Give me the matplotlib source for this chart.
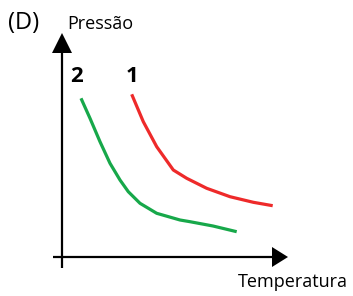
import matplotlib
matplotlib.use("Agg")
import matplotlib.pyplot as plt

plt.rcParams['font.family'] = ['Open Sans', 'DejaVu Sans']

# Curve 2 (green) - temperature vs pressure (arbitrary units)
t2 = [1.9, 2.8, 3.8, 4.8, 5.8, 6.63, 7.8, 9.47, 11.8, 12.8, 15.1, 17.47]
p2 = [15.87, 13.87, 11.53, 9.37, 7.7, 6.53, 5.37, 4.37, 3.7, 3.53, 3.1, 2.53]
# Curve 1 (red)
t1 = [6.97, 8.13, 9.47, 11.13, 12.47, 14.47, 16.8, 19.13, 21.07]
p1 = [16.27, 13.53, 11.03, 8.7, 7.87, 6.87, 6.03, 5.47, 5.13]

labels = ["1", "2"]

fig = plt.figure(figsize=(3.53, 2.96), dpi=100)
ax = fig.add_axes([0, 0, 1, 1])
ax.set_xlim(-6.2, 29.1)
ax.set_ylim(-3.9, 25.7)
ax.axis('off')

# axes with arrows
ax.plot([-0.9, 21.2], [0, 0], color='black', lw=1.6, solid_capstyle='butt')
ax.fill([21.0, 22.6, 21.0], [1.0, 0, -1.0], color='black', lw=0)
ax.plot([0, 0], [-1.1, 20.6], color='black', lw=1.6, solid_capstyle='butt')
ax.fill([-1.0, 0, 1.0], [20.4, 22.4, 20.4], color='black', lw=0)

ax.plot(t2, p2, color='#17a84a', lw=2.3, solid_capstyle='butt', solid_joinstyle='round')
ax.plot(t1, p1, color='#ee2a2a', lw=2.3, solid_capstyle='butt', solid_joinstyle='round')

ax.text(1.45, 18.0, labels[1], fontsize=16, fontweight='bold', ha='center', va='center')
ax.text(7.05, 18.0, labels[0], fontsize=16, fontweight='bold', ha='center', va='center')

ax.text(-5.4, 23.4, "(D)", fontsize=17, ha='left', va='center')
ax.text(0.5, 23.3, "Pressão", fontsize=13, ha='left', va='center')
ax.text(17.6, -2.5, "Temperatura", fontsize=13, ha='left', va='center')

fig.savefig("out.png", dpi=100)
